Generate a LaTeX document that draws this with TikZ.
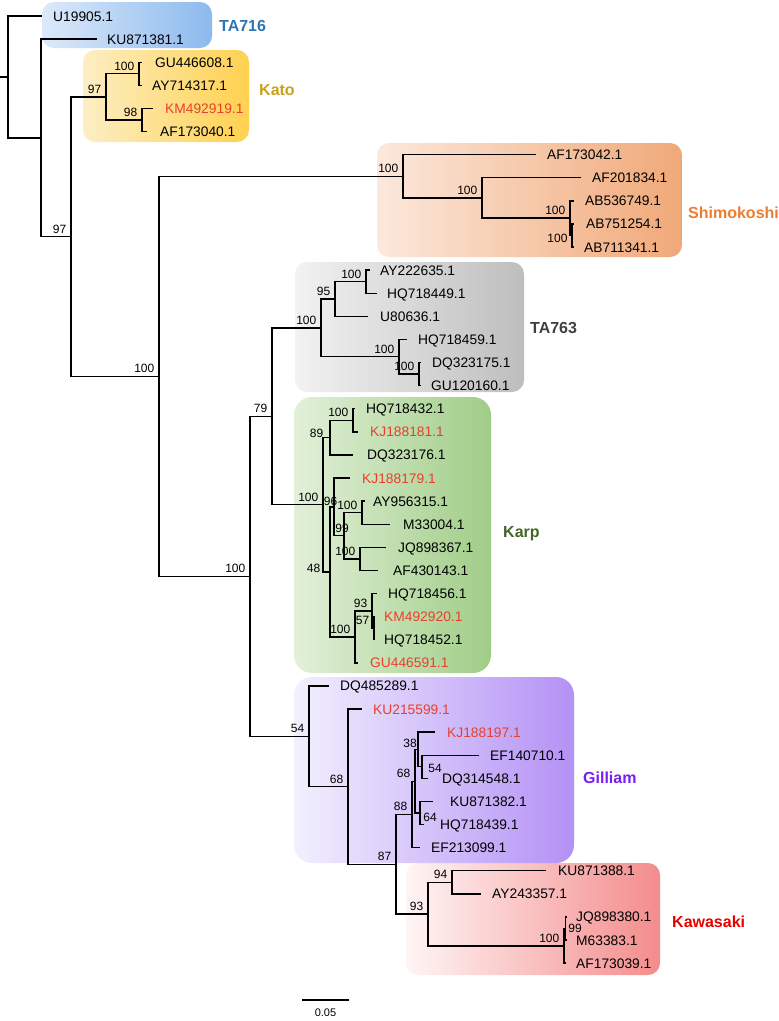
\documentclass[tikz,border=0pt]{standalone}
\usepackage{fontspec}
\setmainfont{Liberation Sans}
\definecolor{leafred}{RGB}{232,64,44}
\definecolor{cTAa}{RGB}{46,117,182}
\definecolor{cKato}{RGB}{201,160,30}
\definecolor{cShimo}{RGB}{237,125,49}
\definecolor{cTAb}{RGB}{64,64,64}
\definecolor{cKarp}{RGB}{68,100,40}
\definecolor{cGill}{RGB}{120,30,240}
\definecolor{cKawa}{RGB}{230,0,0}
\begin{document}
\begin{tikzpicture}[x=1pt,y=-1pt,
  br/.style={line width=1.4pt},
  leaf/.style={anchor=west, inner sep=0pt, text height=10pt, text depth=0pt, font=\fontsize{13.8}{14}\selectfont},
  rleaf/.style={leaf, text=leafred},
  bs/.style={anchor=base east, inner sep=0pt, xshift=-4.5pt, yshift=3.5pt, font=\fontsize{12}{12}\selectfont},
  bsc/.style={anchor=center, inner sep=0pt, text height=8.6pt, text depth=0pt, font=\fontsize{12}{12}\selectfont},
  clade/.style={anchor=west, inner sep=0pt, text height=11.5pt, text depth=0pt, font=\fontsize{16}{16}\selectfont\bfseries},
  cbox/.style={rounded corners=12pt}
]
\useasboundingbox (0,0) rectangle (779,1021);

% ---------- clade boxes ----------
\shade[cbox, left color={rgb,255:red,220;green,233;blue,250}, right color={rgb,255:red,140;green,186;blue,238}] (42,2) rectangle (212,48);
\shade[cbox, left color={rgb,255:red,253;green,238;blue,196}, right color={rgb,255:red,255;green,209;blue,80}] (83,50) rectangle (249,142);
\shade[cbox, left color={rgb,255:red,252;green,232;blue,220}, right color={rgb,255:red,240;green,168;blue,120}] (377,143) rectangle (682,257);
\shade[cbox, left color={rgb,255:red,242;green,242;blue,242}, right color={rgb,255:red,190;green,190;blue,190}] (295,262) rectangle (524,392);
\shade[cbox, rounded corners=18pt, left color={rgb,255:red,226;green,240;blue,217}, right color={rgb,255:red,160;green,205;blue,135}] (294,397) rectangle (491,673);
\shade[cbox, left color={rgb,255:red,255;green,245;blue,245}, right color={rgb,255:red,244;green,140;blue,140}] (406,863) rectangle (660,975);
\shade[cbox, rounded corners=18pt, left color={rgb,255:red,242;green,240;blue,254}, right color={rgb,255:red,180;green,145;blue,245}] (294,677) rectangle (574,863);

\node[clade, text=cTAa] (cl1) at (219,26) {TA716};
\node[clade, text=cKato] (cl2) at (259,90) {Kato};
\node[clade, text=cShimo] (cl3) at (688,213) {Shimokoshi};
\node[clade, text=cTAb] (cl4) at (530,328) {TA763};
\node[clade, text=cKarp] (cl5) at (503,532) {Karp};
\node[clade, text=cGill] (cl6) at (583,778) {Gilliam};
\node[clade, text=cKawa] (cl7) at (672,922) {Kawasaki};

% ---------- leaf tips ----------
\coordinate (l0) at (42,16.0);
\coordinate (l1) at (97,39.1);
\coordinate (l2) at (142,62.2);
\coordinate (l3) at (142,85.3);
\coordinate (l4) at (153,108.4);
\coordinate (l5) at (147,131.5);
\coordinate (l6) at (536,154.6);
\coordinate (l7) at (581,177.7);
\coordinate (l8) at (574,200.8);
\coordinate (l9) at (574,223.9);
\coordinate (l10) at (574,247.0);
\coordinate (l11) at (370,270.1);
\coordinate (l12) at (377,293.2);
\coordinate (l13) at (368,316.3);
\coordinate (l14) at (407,339.4);
\coordinate (l15) at (421,362.5);
\coordinate (l16) at (421,385.6);
\coordinate (l17) at (355,408.7);
\coordinate (l18) at (358,431.8);
\coordinate (l19) at (353,454.9);
\coordinate (l20) at (350,478.0);
\coordinate (l21) at (365,501.1);
\coordinate (l22) at (390,524.2);
\coordinate (l23) at (386,547.3);
\coordinate (l24) at (378,570.4);
\coordinate (l25) at (377,593.5);
\coordinate (l26) at (375,616.6);
\coordinate (l27) at (375,639.7);
\coordinate (l28) at (358,662.8);
\coordinate (l29) at (329,685.9);
\coordinate (l30) at (362,709.0);
\coordinate (l31) at (435,732.1);
\coordinate (l32) at (479,755.2);
\coordinate (l33) at (428,778.3);
\coordinate (l34) at (433,801.4);
\coordinate (l35) at (424,824.5);
\coordinate (l36) at (420,847.6);
\coordinate (l37) at (546,870.7);
\coordinate (l38) at (481,893.8);
\coordinate (l39) at (567,916.9);
\coordinate (l40) at (567,940.0);
\coordinate (l41) at (566,963.1);

% ---------- internal nodes ----------
\coordinate (stub) at (0,76.9);
\coordinate (R) at (8,76.9);
\coordinate (N1) at (41,137.85);
\coordinate (A97) at (71,236.6);
\coordinate (KATO) at (106,96.85);
\coordinate (KA) at (139,73.75);
\coordinate (KB) at (142,119.95);
\coordinate (B100) at (159,376.3);
\coordinate (S1) at (403,176.25);
\coordinate (S2) at (482,197.9);
\coordinate (S3) at (570,218.1);
\coordinate (S4) at (572,235.45);
\coordinate (X250) at (250,576.3);
\coordinate (K79) at (272,416.3);
\coordinate (T1) at (321,327.84);
\coordinate (T2) at (335,298.98);
\coordinate (T3) at (366,281.65);
\coordinate (T4) at (399,356.7);
\coordinate (T5) at (419,374.05);
\coordinate (P1) at (323,504.7);
\coordinate (P2) at (330,437.6);
\coordinate (P3) at (353,420.25);
\coordinate (P5) at (330,571.85);
\coordinate (P6) at (334,506.9);
\coordinate (P7) at (344,535.75);
\coordinate (P8) at (362,512.65);
\coordinate (P9) at (360,558.85);
\coordinate (P10) at (355,636.8);
\coordinate (P11) at (372,610.8);
\coordinate (P12) at (374,628.15);
\coordinate (G54) at (309,736.3);
\coordinate (G68) at (348,786.6);
\coordinate (G87) at (396,864.2);
\coordinate (G88) at (412,814.4);
\coordinate (G68g) at (415,781.2);
\coordinate (G38) at (418,749.4);
\coordinate (G54g) at (422,766.75);
\coordinate (G64) at (420,812.95);
\coordinate (W93) at (428,914.0);
\coordinate (W94) at (452,882.25);
\coordinate (W100) at (564,945.8);
\coordinate (W99) at (565.5,928.45);

% ---------- branches ----------
\draw[br] (stub) -- (R);
\foreach \p/\c in {R/l0,R/N1,N1/l1,N1/A97,A97/KATO,A97/B100,KATO/KA,KATO/KB,KA/l2,KA/l3,KB/l4,KB/l5,
  B100/S1,B100/X250,S1/l6,S1/S2,S2/l7,S2/S3,S3/l8,S3/S4,S4/l9,S4/l10,
  X250/K79,X250/G54,K79/T1,K79/P1,T1/T2,T1/T4,T2/T3,T2/l13,T3/l11,T3/l12,T4/l14,T4/T5,T5/l15,T5/l16,
  P1/P2,P1/P5,P2/P3,P2/l19,P3/l17,P3/l18,P5/P6,P5/P10,P6/l20,P6/P7,P7/P8,P7/P9,P8/l21,P8/l22,P9/l23,P9/l24,
  P10/P11,P10/l28,P11/l25,P11/P12,P12/l26,P12/l27,
  G54/l29,G54/G68,G68/l30,G68/G87,G87/G88,G87/W93,G88/G68g,G88/l36,G68g/G38,G68g/G64,G38/l31,G38/G54g,
  G54g/l32,G54g/l33,G64/l34,G64/l35,W93/W94,W93/W100,W94/l37,W94/l38,W100/W99,W100/l41,W99/l39,W99/l40}
  \draw[br] (\p) |- (\c);

% ---------- leaf labels ----------
\node[leaf] (t0) at (53,16.0) {U19905.1};
\node[leaf] (t1) at (107,39.1) {KU871381.1};
\node[leaf] (t2) at (155,62.2) {GU446608.1};
\node[leaf] (t3) at (152,85.3) {AY714317.1};
\node[rleaf] (t4) at (165,108.4) {KM492919.1};
\node[leaf] (t5) at (160,131.5) {AF173040.1};
\node[leaf] (t6) at (547,154.6) {AF173042.1};
\node[leaf] (t7) at (592,177.7) {AF201834.1};
\node[leaf] (t8) at (585,200.8) {AB536749.1};
\node[leaf] (t9) at (586,223.9) {AB751254.1};
\node[leaf] (t10) at (584,247.0) {AB711341.1};
\node[leaf] (t11) at (380,270.1) {AY222635.1};
\node[leaf] (t12) at (387,293.2) {HQ718449.1};
\node[leaf] (t13) at (380,316.3) {U80636.1};
\node[leaf] (t14) at (418,339.4) {HQ718459.1};
\node[leaf] (t15) at (432,362.5) {DQ323175.1};
\node[leaf] (t16) at (431,385.6) {GU120160.1};
\node[leaf] (t17) at (366,408.7) {HQ718432.1};
\node[rleaf] (t18) at (370,431.8) {KJ188181.1};
\node[leaf] (t19) at (367,454.9) {DQ323176.1};
\node[rleaf] (t20) at (362,478.0) {KJ188179.1};
\node[leaf] (t21) at (373,501.1) {AY956315.1};
\node[leaf] (t22) at (403,524.2) {M33004.1};
\node[leaf] (t23) at (398,547.3) {JQ898367.1};
\node[leaf] (t24) at (393,570.4) {AF430143.1};
\node[leaf] (t25) at (388,593.5) {HQ718456.1};
\node[rleaf] (t26) at (384,616.6) {KM492920.1};
\node[leaf] (t27) at (384,639.7) {HQ718452.1};
\node[rleaf] (t28) at (370,662.8) {GU446591.1};
\node[leaf] (t29) at (340,685.9) {DQ485289.1};
\node[rleaf] (t30) at (373,709.0) {KU215599.1};
\node[rleaf] (t31) at (447,732.1) {KJ188197.1};
\node[leaf] (t32) at (490,755.2) {EF140710.1};
\node[leaf] (t33) at (442,778.3) {DQ314548.1};
\node[leaf] (t34) at (450,801.4) {KU871382.1};
\node[leaf] (t35) at (440,824.5) {HQ718439.1};
\node[leaf] (t36) at (431,847.6) {EF213099.1};
\node[leaf] (t37) at (558,870.7) {KU871388.1};
\node[leaf] (t38) at (492,893.8) {AY243357.1};
\node[leaf] (t39) at (576,916.9) {JQ898380.1};
\node[leaf] (t40) at (576,940.0) {M63383.1};
\node[leaf] (t41) at (576,963.1) {AF173039.1};

% ---------- bootstrap values ----------
\foreach \n/\v in {KATO/97,A97/97,KA/100,KB/98,B100/100,S1/100,S2/100,S3/100,X250/100,K79/79,
  T1/100,T2/95,T3/100,T4/100,T5/100,P1/100,P3/100,P8/100,P9/100,P10/100,P11/93,P12/57,
  G54/54,G68/68,G87/87,G88/88,G68g/68,W93/93,W94/94,W100/100}
  \node[bs] (b\n) at (\n) {\v};
\node[bsc] (bS4) at (557.5,238.5) {100};
\node[bsc] (bP2) at (316.5,433) {89};
\node[bsc] (bP6) at (330.5,501.5) {96};
\node[bsc] (bP7) at (342,528.5) {99};
\node[bsc] (bP5) at (313.5,568) {48};
\node[bsc] (bG38) at (410,743.5) {38};
\node[bsc] (bG54g) at (435,768.5) {54};
\node[bsc] (bG64) at (430,817) {64};
\node[bsc] (bW99) at (575,928) {99};

% ---------- scale bar ----------
\coordinate (sb1) at (302,1000);
\coordinate (sb2) at (349,1000);
\draw[br] (sb1) -- (sb2);
\node[inner sep=0pt, font=\fontsize{11}{11}\selectfont] (sbl) at (325.5,1013) {0.05};
\end{tikzpicture}
\end{document}
